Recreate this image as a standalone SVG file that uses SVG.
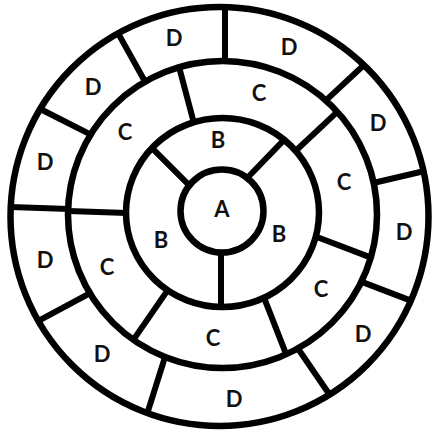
<svg xmlns="http://www.w3.org/2000/svg" width="432" height="434" viewBox="0 0 432 434">
<style>
.ring{fill:none;stroke:#000;stroke-width:6.5}
.div{stroke:#000;stroke-width:6;stroke-linecap:butt}
.lbl{font-family:Lato,"Open Sans","Liberation Sans",sans-serif;font-weight:700;font-size:22px;fill:#111;text-anchor:middle}
</style>
<rect width="432" height="434" fill="#fff"/>
<g id="rings">
<ellipse id="ring-D" class="ring" cx="219.5" cy="216.5" rx="209" ry="209.5"/>
<ellipse id="ring-C" class="ring" cx="222.5" cy="214.5" rx="154.5" ry="153.5"/>
<ellipse id="ring-B" class="ring" cx="222.5" cy="212.5" rx="96.5" ry="94.5"/>
<circle id="node-A" class="ring" cx="222" cy="211" r="41.5"/>
</g>
<g id="connectors">
<line class="div" x1="225" y1="7.5" x2="225" y2="60.5"/>
<line class="div" x1="118.3" y1="33.6" x2="145" y2="81.5"/>
<line class="div" x1="40.3" y1="109" x2="90.8" y2="134.7"/>
<line class="div" x1="10.7" y1="207" x2="68.6" y2="209"/>
<line class="div" x1="38.4" y1="320.9" x2="90.1" y2="293.2"/>
<line class="div" x1="147.5" y1="412.7" x2="164.9" y2="357.4"/>
<line class="div" x1="329.3" y1="394.3" x2="298.1" y2="348.8"/>
<line class="div" x1="410.8" y1="300.6" x2="361.1" y2="281.6"/>
<line class="div" x1="424.5" y1="171" x2="373.2" y2="183"/>
<line class="div" x1="363.7" y1="65.3" x2="325.9" y2="100.4"/>
<line class="div" x1="179" y1="66.7" x2="193.5" y2="121.6"/>
<line class="div" x1="337.3" y1="111.9" x2="295.5" y2="151"/>
<line class="div" x1="370.4" y1="257.4" x2="315" y2="236.2"/>
<line class="div" x1="286.3" y1="354.6" x2="264.3" y2="298.4"/>
<line class="div" x1="133" y1="340.4" x2="167.4" y2="290.6"/>
<line class="div" x1="68.5" y1="211" x2="127" y2="213"/>
<line class="div" x1="152.1" y1="148.1" x2="189.3" y2="185.4"/>
<line class="div" x1="284.3" y1="139.7" x2="247.2" y2="178"/>
<line class="div" x1="221" y1="252.5" x2="221" y2="308"/>
</g>
<g id="labels">
<g id="A"><text class="lbl" x="222" y="217">A</text></g>
<g id="B1"><text class="lbl" x="218" y="148">B</text></g>
<g id="B2"><text class="lbl" x="161" y="248">B</text></g>
<g id="B3"><text class="lbl" x="279" y="242">B</text></g>
<g id="C1"><text class="lbl" x="259" y="101">C</text></g>
<g id="C2"><text class="lbl" x="125" y="140">C</text></g>
<g id="C3"><text class="lbl" x="344" y="190">C</text></g>
<g id="C4"><text class="lbl" x="321" y="297">C</text></g>
<g id="C5"><text class="lbl" x="213" y="346">C</text></g>
<g id="C6"><text class="lbl" x="107" y="275">C</text></g>
<g id="D1"><text class="lbl" x="174" y="46">D</text></g>
<g id="D2"><text class="lbl" x="289" y="55">D</text></g>
<g id="D3"><text class="lbl" x="378" y="131">D</text></g>
<g id="D4"><text class="lbl" x="404" y="240">D</text></g>
<g id="D5"><text class="lbl" x="363" y="342">D</text></g>
<g id="D6"><text class="lbl" x="234" y="407">D</text></g>
<g id="D7"><text class="lbl" x="102" y="362">D</text></g>
<g id="D8"><text class="lbl" x="45" y="268">D</text></g>
<g id="D9"><text class="lbl" x="45" y="170">D</text></g>
<g id="D10"><text class="lbl" x="93" y="95">D</text></g>
</g>
</svg>
